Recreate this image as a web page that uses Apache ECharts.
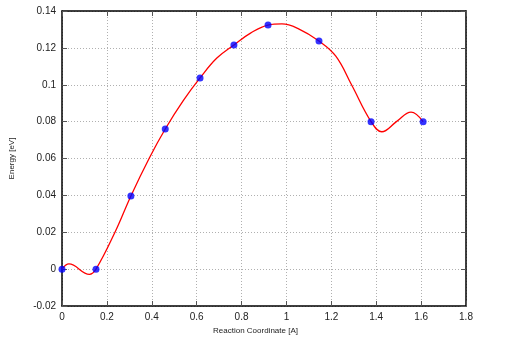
<!DOCTYPE html>
<html>
<head>
<meta charset="utf-8">
<script src="https://cdn.jsdelivr.net/npm/echarts@6/dist/echarts.min.js"></script>
<style>
  html, body { margin: 0; padding: 0; background: #fff; }
  #chart { width: 506px; height: 342px; }
</style>
</head>
<body>
<div id="chart"></div>
<script>
// image points
const pointX = [0, 0.1515, 0.307, 0.46, 0.615, 0.766, 0.918, 1.145, 1.377, 1.609];
const pointY = [0, 0, 0.0397, 0.076, 0.1037, 0.1216, 0.1324, 0.1237, 0.08, 0.08];

// spline curve
const curveX = [0, 0.031, 0.122, 0.1515, 0.236, 0.307, 0.388, 0.46, 0.541, 0.615, 0.69, 0.766, 0.84, 0.918, 0.98, 1.05, 1.145, 1.22, 1.29, 1.377, 1.425, 1.49, 1.555, 1.609];
const curveY = [0, 0.0028, -0.0028, 0, 0.02, 0.0397, 0.06, 0.076, 0.0915, 0.1037, 0.1145, 0.1216, 0.128, 0.1324, 0.133, 0.1306, 0.1237, 0.1155, 0.1, 0.08, 0.0745, 0.08, 0.0852, 0.08];

const xName = 'Reaction Coordinate [A]';
const yName = 'Energy [eV]';

const font = 'Liberation Sans, Arial, sans-serif';
const gridLine = { show: true, lineStyle: { color: '#b0b0b0', type: [1, 2], width: 1 } };
const frame = { show: true, onZero: false, lineStyle: { color: '#000', width: 1.5 } };
const tick = { show: true, inside: true, length: 5, lineStyle: { color: '#555', width: 1 } };
const label = { fontFamily: font, fontSize: 10, color: '#222', margin: 6 };

const chart = echarts.init(document.getElementById('chart'));
chart.setOption({
  animation: false,
  backgroundColor: '#fff',
  grid: { left: 62, right: 40, top: 11, bottom: 36 },
  xAxis: [{
    type: 'value', min: 0, max: 1.8, interval: 0.2,
    name: xName, nameLocation: 'middle', nameGap: 19,
    nameTextStyle: { fontFamily: font, fontSize: 8, color: '#222', padding: [0, 17, 0, 0] },
    axisLine: frame, axisTick: tick, splitLine: gridLine,
    axisLabel: label
  }, {
    type: 'value', position: 'top', min: 0, max: 1.8, interval: 0.2,
    axisLine: frame, axisTick: tick, splitLine: { show: false },
    axisLabel: { show: false }
  }],
  yAxis: [{
    type: 'value', min: -0.02, max: 0.14, interval: 0.02,
    name: yName, nameLocation: 'middle', nameGap: 46,
    nameTextStyle: { fontFamily: font, fontSize: 8, color: '#222' },
    axisLine: frame, axisTick: tick, splitLine: gridLine,
    axisLabel: label
  }, {
    type: 'value', position: 'right', min: -0.02, max: 0.14, interval: 0.02,
    axisLine: frame, axisTick: tick, splitLine: { show: false },
    axisLabel: { show: false }
  }],
  series: [{
    type: 'line',
    data: curveX.map((x, i) => [x, curveY[i]]),
    smooth: 0.4,
    showSymbol: false,
    lineStyle: { color: '#ff0000', width: 1.3 },
    z: 2
  }, {
    type: 'scatter',
    data: pointX.map((x, i) => [x, pointY[i]]),
    symbol: 'circle',
    symbolSize: 7,
    itemStyle: { color: '#0000ff' },
    z: 3
  }]
});
</script>
</body>
</html>
